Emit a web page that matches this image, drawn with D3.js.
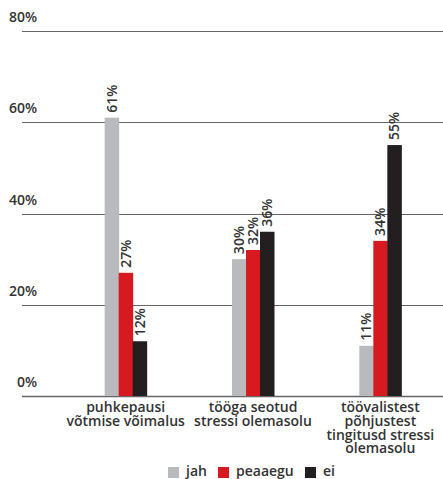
<!DOCTYPE html>
<html><head><meta charset="utf-8">
<script src="https://cdn.jsdelivr.net/npm/d3@7/dist/d3.min.js"></script>
<style>body{margin:0;background:#fff}svg{display:block}text{font-family:"Open Sans",sans-serif;font-weight:600;fill:#333}</style>
</head><body><svg id="c" width="443" height="479"></svg>
<script>
const categories = [["puhkepausi","võtmise võimalus"],["tööga seotud","stressi olemasolu"],["töövalistest","põhjustest","tingitusd stressi","olemasolu"]];
const seriesNames = ["jah","peaaegu","ei"];
const jah = [61,30,11];
const peaaegu = [27,32,34];
const ei = [12,36,55];
const ticks = [0,20,40,60,80];
const colors = ["#b9babe","#d71920","#231f20"];
const series = [jah,peaaegu,ei];

const svg = d3.select("#c");
const y = d3.scaleLinear().domain([0,80]).range([396,31]);
const x0 = d3.scaleBand().domain(d3.range(3)).range([62,444]);
const x1 = d3.scaleBand().domain(d3.range(3)).range([0,42]);
const fs = 14;

// grid
const g = svg.append("g");
ticks.forEach(t=>{
  g.append("line").attr("x1",22).attr("x2",443).attr("y1",Math.round(y(t))+0.5).attr("y2",Math.round(y(t))+0.5)
   .attr("stroke","#666").attr("stroke-width",t===0?1.5:1.2);
  g.append("text").attr("x",37).attr("text-anchor","end").attr("y",y(t)-9).attr("font-size",fs).text(t+"%");
});

// bars
categories.forEach((c,i)=>{
  const cx = x0(i)+x0.bandwidth()/2 - 21;
  series.forEach((s,j)=>{
    const bx = cx + x1(j);
    svg.append("rect").attr("x",bx).attr("y",y(s[i])).attr("width",x1.bandwidth()+0.5).attr("height",y(0)-y(s[i])).attr("fill",colors[j]);
    svg.append("text").attr("transform",`translate(${bx+x1.bandwidth()/2+5},${y(s[i])-5}) rotate(-90)`)
      .attr("font-size",fs).text(s[i]+"%");
  });
  c.forEach((line,k)=>svg.append("text").attr("text-anchor","middle").attr("font-size",fs)
    .attr("x",x0(i)+x0.bandwidth()/2).attr("y",412+k*13.8).text(line));
});

// legend
const lx = [168,218,305];
seriesNames.forEach((n,j)=>{
  svg.append("rect").attr("x",lx[j]).attr("y",467).attr("width",11).attr("height",11).attr("fill",colors[j]);
  svg.append("text").attr("x",lx[j]+18).attr("y",476).attr("font-size",fs).text(n);
});
</script></body></html>
